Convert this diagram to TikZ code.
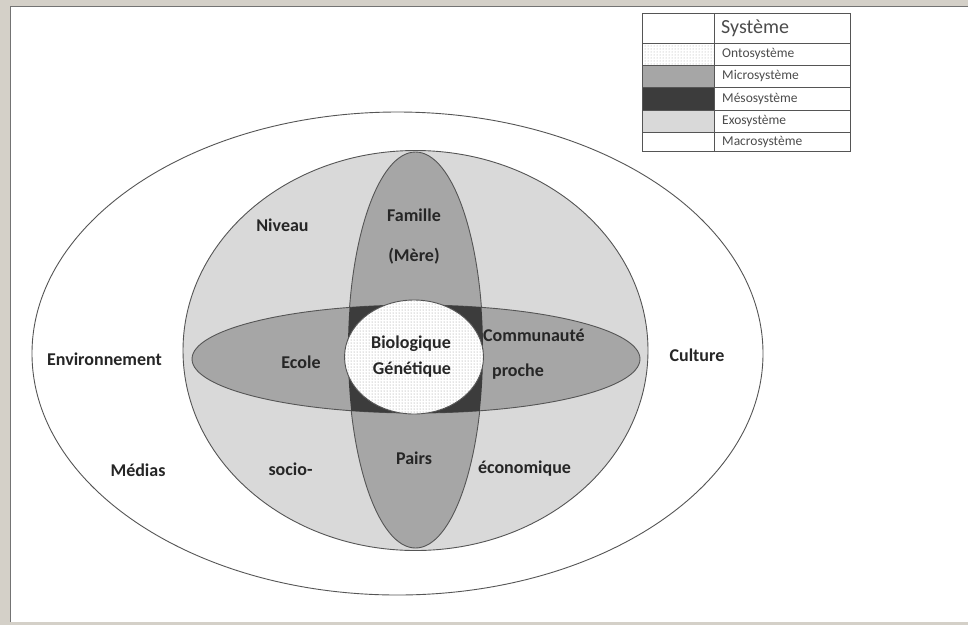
\documentclass[tikz,border=0pt]{standalone}
\usepackage{fontspec}
\setmainfont{Carlito}
\usetikzlibrary{patterns}
\definecolor{exo}{HTML}{D9D9D9}
\definecolor{micro}{HTML}{A6A6A6}
\definecolor{meso}{HTML}{3C3C3C}
\definecolor{frameg}{HTML}{D4D0C8}
\definecolor{edge}{HTML}{555555}
\begin{document}
\begin{tikzpicture}[x=1pt,y=-1pt,
  lab/.style={font=\bfseries\fontsize{18}{20}\selectfont, text=black!85, inner sep=0},
  leg/.style={font=\fontsize{13.5}{15}\selectfont, anchor=west, inner sep=0, text=black!70},
  shp/.style={draw=edge, line width=0.9pt},
  cell/.style={draw=edge, line width=0.8pt}]
\useasboundingbox (0,0) rectangle (968,625);
\fill[frameg] (0,0) rectangle (968,625);
\fill[white] (10,6) rectangle (968,622);
\draw[black!55, line width=1.3pt] (10.7,622) -- (10.7,6.7) -- (968,6.7);
% macrosystem
\draw[shp, fill=white] (397.5,353.5) ellipse [x radius=365.5pt, y radius=241.5pt];
% exosystem
\draw[shp, fill=exo] (415.5,350.5) ellipse [x radius=232.5pt, y radius=200pt];
% microsystem vertical
\draw[shp, fill=micro] (415.5,350) ellipse [x radius=67.5pt, y radius=198pt];
% microsystem horizontal
\draw[shp, fill=micro] (416,359) ellipse [x radius=224pt, y radius=54pt];
% mesosystem
\begin{scope}
  \clip (415.5,350) ellipse [x radius=67.5pt, y radius=198pt];
  \fill[meso] (416,359) ellipse [x radius=224pt, y radius=54pt];
\end{scope}
% ontosystem
\fill[white] (414,357) ellipse [x radius=69.5pt, y radius=57pt];
\fill[pattern=dots, pattern color=black!45] (414,357) ellipse [x radius=69.5pt, y radius=57pt];
\draw[shp] (414,357) ellipse [x radius=69.5pt, y radius=57pt];
% labels
\node[lab] (niveau) at (282.5,225) {Niveau};
\node[lab] (famille) at (414,215) {Famille};
\node[lab] (mere) at (414,256) {(Mère)};
\node[lab, anchor=west] (comm) at (483,335) {Communauté};
\node[lab] (proche) at (518,372) {proche};
\node[lab] (ecole) at (301,362) {Ecole};
\node[lab] (bio) at (411,344) {Biologique};
\node[lab] (gen) at (412,370) {Génétique};
\node[lab] (env) at (104.5,359) {Environnement};
\node[lab] (culture) at (697,355) {Culture};
\node[lab] (medias) at (138,470) {Médias};
\node[lab] (socio) at (290.5,469) {socio-};
\node[lab] (pairs) at (414,458) {Pairs};
\node[lab] (eco) at (524.5,469) {économique};
% legend
\fill[white] (642,13) rectangle (850,151);
\fill[pattern=dots, pattern color=black!35] (642,43) rectangle (714,65);
\fill[micro] (642,65) rectangle (714,87);
\fill[meso] (642,87) rectangle (714,110);
\fill[exo] (642,110) rectangle (714,132);
\draw[cell] (642,13) rectangle (850,151);
\draw[cell] (714,13) -- (714,151);
\foreach \yy in {43,65,87,110,132} \draw[cell] (642,\yy) -- (850,\yy);
\node[leg, font=\fontsize{20}{22}\selectfont] (lsys) at (721,28) {Système};
\node[leg] (lonto) at (722,54) {Ontosystème};
\node[leg] (lmicro) at (722,76) {Microsystème};
\node[leg] (lmeso) at (722,98.5) {Mésosystème};
\node[leg] (lexo) at (722,121) {Exosystème};
\node[leg] (lmacro) at (722,141.5) {Macrosystème};
\end{tikzpicture}
\end{document}
